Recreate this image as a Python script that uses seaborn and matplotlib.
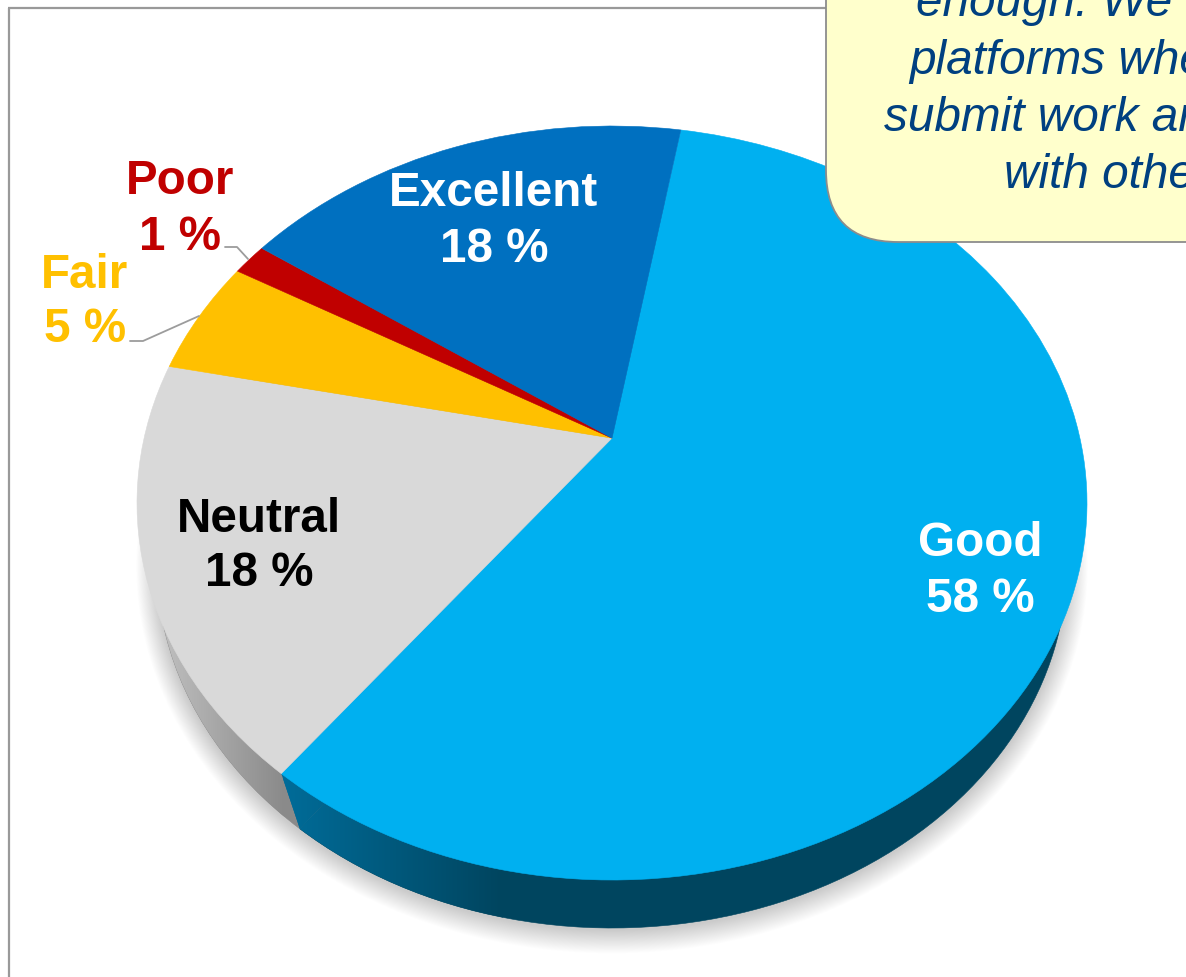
import numpy as np
import matplotlib
matplotlib.use("Agg")
import matplotlib.pyplot as plt
from matplotlib.transforms import Affine2D, Transform
from matplotlib.patches import Ellipse, FancyBboxPatch, Polygon
from matplotlib.colors import LinearSegmentedColormap
import seaborn as sns

categories = ["Good", "Neutral", "Fair", "Poor", "Excellent"]
shares = [57.7, 17.8, 5.0, 1.4, 18.1]
share_labels = ["58 %", "18 %", "5 %", "1 %", "18 %"]
top_colors = ["#00B0F0", "#D9D9D9", "#FFC000", "#C00000", "#0070C0"]
label_colors = ["white", "black", "#FFC000", "#C00000", "white"]
callout_lines = ["enough. We need", "platforms where", "submit work and", "with others"]

sns.set_theme(style="white")
plt.rcParams["font.family"] = ["Liberation Sans", "DejaVu Sans"]

W, H = 1186, 977
fig = plt.figure(figsize=(W / 100, H / 100), dpi=100, facecolor="white")
ax = fig.add_axes([0, 0, 1, 1])
TILT = 0.172
START_TOP = 80.1
START_SIDE = 80.8


class Perspective(Transform):
    """Maps the unit circle onto itself while moving its centre towards the back."""
    input_dims = 2
    output_dims = 2
    is_separable = False
    has_inverse = False

    def transform_non_affine(self, values):
        v = np.asarray(values, dtype=float)
        d = 1 + TILT * v[:, 1]
        return np.column_stack((v[:, 0] * np.sqrt(1 - TILT ** 2) / d, (v[:, 1] + TILT) / d))


def layer_transform(rx, ry, cx, cy):
    return Perspective() + Affine2D().scale(rx, -ry).translate(cx, cy)


def pie_layer(colors, rx, ry, cx, cy, z, start):
    wedges, _ = ax.pie(shares, colors=sns.color_palette(colors), startangle=start,
                       counterclock=False, normalize=True)
    t = layer_transform(rx, ry, cx, cy) + ax.transData
    for w in wedges:
        w.set_transform(t)
        w.set_zorder(z)
        w.set_edgecolor(w.get_facecolor())
        w.set_linewidth(0.4)
    return wedges


# soft shadow beneath the lower rim
for k in range(1, 27):
    ax.add_patch(Ellipse((612, 566), 2 * (455 + k * 0.8), 2 * (364 + k * 0.9),
                         facecolor="black", edgecolor="none", alpha=0.0095, zorder=1))

TOP_GEOM = (475, 377, 612, 503)
SIDE_GEOM = (455, 364, 612, 564)
side = pie_layer(["#00455F", "#8A8A8A", "#8A8A8A", "#8A8A8A", "#8A8A8A"], *SIDE_GEOM, 2, START_SIDE)
top = pie_layer(top_colors, *TOP_GEOM, 5, START_TOP)


def rim_point(geom, start, fraction):
    angle = np.deg2rad(start - 360 * fraction)
    return layer_transform(*geom).transform(np.array([[np.cos(angle), np.sin(angle)]]))[0]


# the face where the blue slice was cut: joins its top edge to its lower edge
fraction_good = shares[0] / sum(shares)
hub = layer_transform(*SIDE_GEOM).transform(np.array([[0.0, 0.0]]))[0]
bridge = Polygon([rim_point(TOP_GEOM, START_TOP, fraction_good),
                  rim_point(SIDE_GEOM, START_SIDE, fraction_good), hub],
                 closed=True, facecolor="#006C99", edgecolor="none", zorder=2.5)
ax.add_patch(bridge)

grad_blue = LinearSegmentedColormap.from_list("b", ["#006C99", "#00455F"])
grad_grey = LinearSegmentedColormap.from_list("g", ["#C4C4C4", "#8A8A8A"])
ramp = np.linspace(0, 1, 220).reshape(1, -1)
img_b = ax.imshow(ramp, extent=(283, 503, H, 0), cmap=grad_blue, aspect="auto", zorder=3)
img_b.set_clip_path(side[0])
img_b2 = ax.imshow(ramp, extent=(283, 503, H, 0), cmap=grad_blue, aspect="auto", zorder=3)
img_b2.set_clip_path(bridge)
img_g = ax.imshow(ramp, extent=(150, 285, H, 0), cmap=grad_grey, aspect="auto", zorder=2.2)
img_g.set_clip_path(side[1])

ax.set_aspect("auto")
ax.set_xlim(0, W)
ax.set_ylim(H, 0)
ax.axis("off")

# slide frame
ax.plot([8.5, 8.5], [H, 8], color="#999999", lw=1.6, zorder=4, solid_capstyle="butt")
ax.plot([8, 830], [8, 8], color="#999999", lw=1.6, zorder=4, solid_capstyle="butt")

# leader lines
ax.plot([225, 237, 248], [247, 247, 259], color="#9C9C9C", lw=1.3, zorder=6)
ax.plot([130, 143, 199], [341, 341, 316], color="#9C9C9C", lw=1.3, zorder=6)

# category labels
label_xy = {"Good": (980, 567), "Neutral": (259, 542), "Fair": (85, 298),
            "Poor": (180, 205), "Excellent": (494, 217)}
for name, pct, col in zip(categories, share_labels, label_colors):
    x, y = label_xy[name]
    ax.text(x, y - 23, name, ha="center", va="center", fontsize=34.3,
            fontweight="bold", color=col, zorder=7)
    ax.text(x, y + 32, pct, ha="center", va="center", fontsize=34.3,
            fontweight="bold", color=col, zorder=7)

# callout
ax.add_patch(FancyBboxPatch((826, -120), 600, 362, boxstyle="round,pad=0,rounding_size=72",
                            facecolor="#FFFFCC", edgecolor="#8C8C8C", lw=1.3, zorder=8))
for line, x, y in zip(callout_lines, [916, 909, 884, 1004], [16, 74, 131, 188]):
    ax.text(x, y, line, ha="left", va="baseline", fontsize=34.4, style="italic",
            color="#004080", zorder=9)

fig.savefig("out.png", dpi=100)
